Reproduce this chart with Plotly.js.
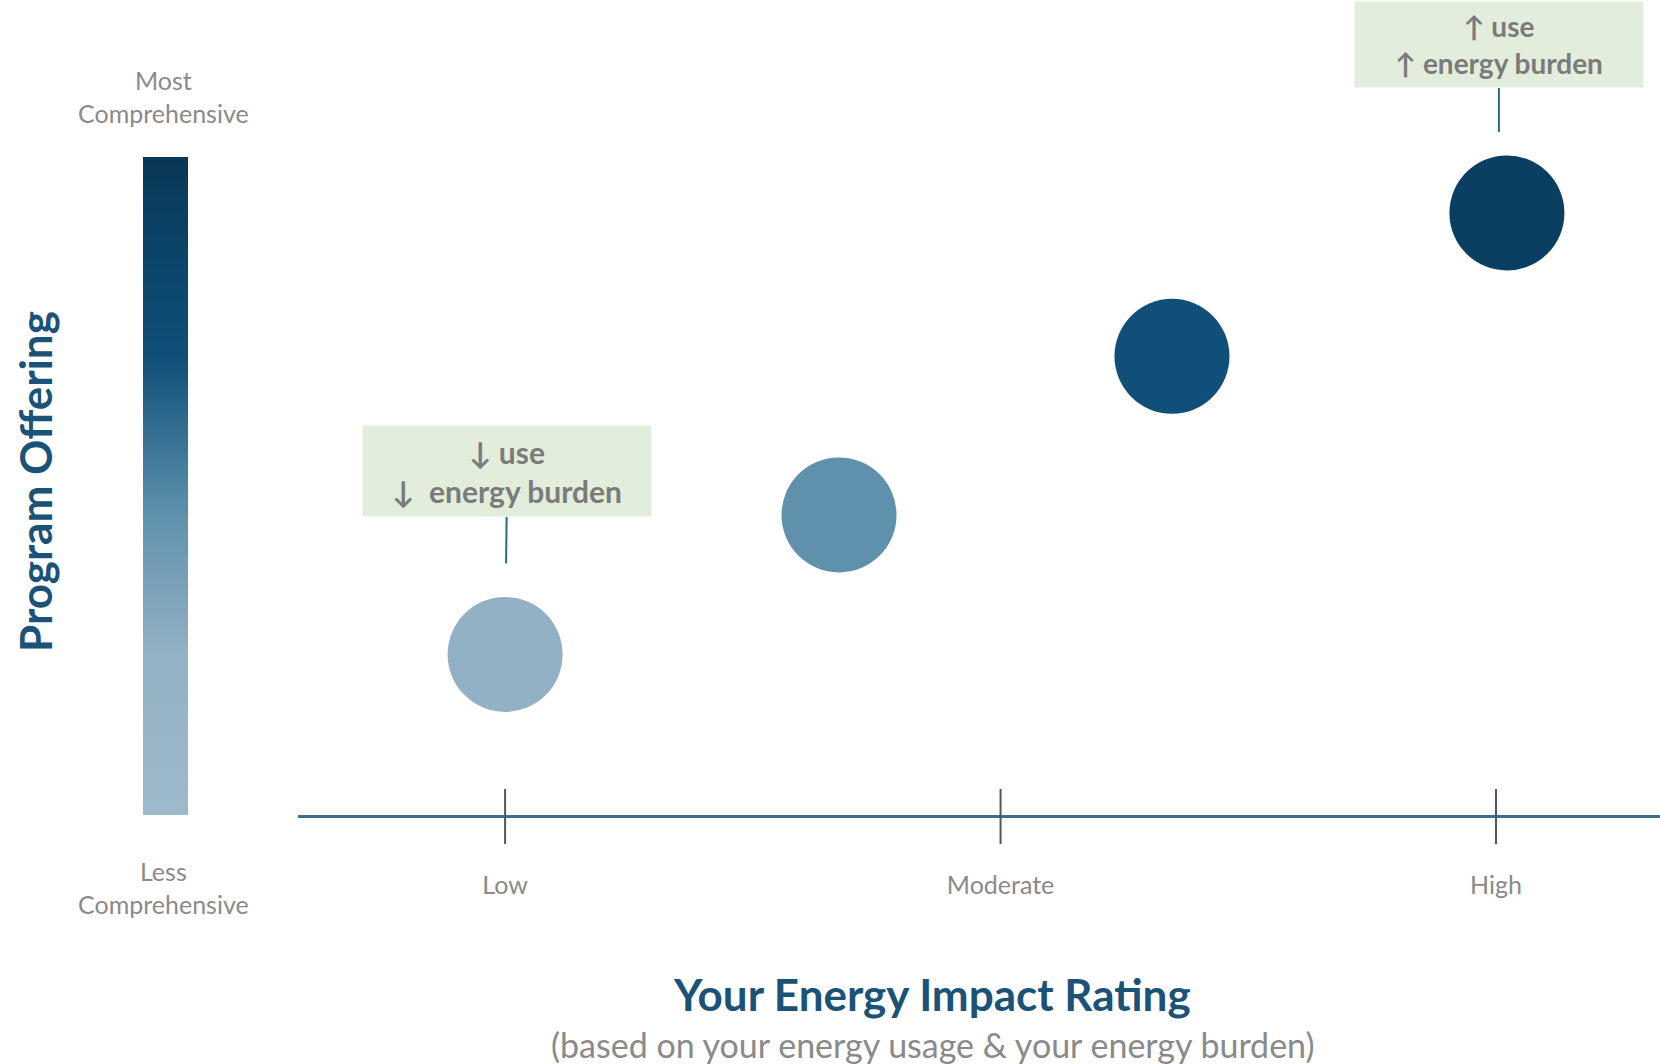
<!DOCTYPE html>
<html>
<head>
<meta charset="utf-8">
<script src="https://cdn.plot.ly/plotly-3.0.1.min.js"></script>
<style>
html,body{margin:0;padding:0;background:#fff;}
#chart{width:1660px;height:1064px;}
</style>
</head>
<body>
<div id="chart"></div>
<script>
// ---- data ----
const ratingLevels = ['Low', 'Moderate', 'High'];
const ratingLevelPos = [1, 2, 3];
const ratingX = [1.0, 1.674, 2.346, 3.022];      // energy impact rating of each circle
const offeringY = [2.44, 4.56, 6.97, 9.15];      // program offering level of each circle
const calloutText = ['↓ use<br>↓  energy burden', '↑ use<br>↑ energy burden'];
const calloutPoint = [0, 3];                      // which circle each callout points to
const scaleTopLabel = 'Most<br>Comprehensive';
const scaleBottomLabel = 'Less<br>Comprehensive';
const yTitle = 'Program Offering';
const xTitle = 'Your Energy Impact Rating';
const xSubtitle = '(based on your energy usage &amp; your energy burden)';

const grayText = '#8a8a8a';
const navy = '#1b5277';

const trace = {
  type: 'scatter',
  mode: 'markers',
  x: ratingX,
  y: offeringY,
  cliponaxis: false,
  hoverinfo: 'skip',
  marker: {
    size: 115,
    color: offeringY,
    cmin: 0,
    cmax: 10,
    colorscale: [
      [0, '#9cbacb'],
      [0.244, '#93b1c4'],
      [0.456, '#5f91ad'],
      [0.697, '#0f4f78'],
      [0.915, '#0a3f62'],
      [1, '#093655']
    ],
    line: {width: 0},
    colorbar: {
      thickness: 45,
      thicknessmode: 'pixels',
      len: 658,
      lenmode: 'pixels',
      x: -0.1138,
      xanchor: 'left',
      xpad: 0,
      y: 0,
      yanchor: 'bottom',
      ypad: 0,
      ticks: '',
      showticklabels: false,
      outlinewidth: 0
    }
  }
};

const tickShapes = ratingLevelPos.map(v => ({
  type: 'line',
  xref: 'x', yref: 'paper',
  x0: v, x1: v,
  ysizemode: 'pixel',
  yanchor: 0,
  y0: -29, y1: 26,
  line: {color: '#555', width: 2}
}));

const callouts = calloutText.map((t, i) => {
  const idx = calloutPoint[i];
  const first = i === 0;
  return {
    xref: 'x', yref: 'y',
    x: ratingX[idx], y: offeringY[idx],
    xshift: first ? 0 : -8,
    text: t,
    showarrow: true,
    arrowhead: 0,
    arrowwidth: 2,
    arrowcolor: '#2b6b80',
    ax: first ? 2 : 0,
    ay: first ? -183 : -168,
    standoff: first ? 91 : 81,
    width: 288,
    height: first ? 90 : 85,
    borderpad: 0,
    bgcolor: '#e2eedb',
    align: 'center',
    valign: 'middle',
    font: {family: 'Lato, sans-serif', size: first ? 30 : 28, color: '#7b7b7b', weight: 'bold'}
  };
});

const labelFont = {family: 'Lato, sans-serif', size: 25, color: grayText};

const layout = {
  width: 1660,
  height: 1064,
  margin: {l: 298, r: 0, t: 157, b: 249},
  paper_bgcolor: '#ffffff',
  plot_bgcolor: '#ffffff',
  showlegend: false,
  xaxis: {
    range: [0.582, 3.331],
    tickvals: ratingLevelPos,
    ticktext: ratingLevels,
    ticks: '',
    ticklabelstandoff: 46,
    tickfont: labelFont,
    showgrid: false,
    zeroline: false,
    showline: true,
    linecolor: '#3b6e8f',
    linewidth: 3,
    fixedrange: true
  },
  yaxis: {
    range: [0, 10],
    visible: false,
    showgrid: false,
    zeroline: false,
    fixedrange: true
  },
  shapes: tickShapes,
  annotations: [
    ...callouts,
    {
      xref: 'paper', yref: 'paper', x: -0.0984, y: 1.092,
      xanchor: 'center', yanchor: 'middle',
      text: scaleTopLabel, showarrow: false, align: 'center',
      font: labelFont
    },
    {
      xref: 'paper', yref: 'paper', x: -0.0984, y: -0.11,
      xanchor: 'center', yanchor: 'middle',
      text: scaleBottomLabel, showarrow: false, align: 'center',
      font: labelFont
    },
    {
      xref: 'paper', yref: 'paper', x: -0.1931, y: 0.5076,
      xanchor: 'center', yanchor: 'middle',
      text: yTitle, showarrow: false, textangle: -90,
      font: {family: 'Lato, sans-serif', size: 44, color: navy, weight: 'bold'}
    },
    {
      xref: 'paper', yref: 'paper', x: 0.4655, y: -0.2713,
      xanchor: 'center', yanchor: 'middle',
      text: xTitle, showarrow: false,
      font: {family: 'Lato, sans-serif', size: 44, color: navy, weight: 'bold'}
    },
    {
      xref: 'paper', yref: 'paper', x: 0.4662, y: -0.349,
      xanchor: 'center', yanchor: 'middle',
      text: xSubtitle, showarrow: false,
      font: {family: 'Lato, sans-serif', size: 34, color: grayText}
    }
  ]
};

Plotly.newPlot('chart', [trace], layout, {displayModeBar: false, staticPlot: true});
</script>
</body>
</html>
